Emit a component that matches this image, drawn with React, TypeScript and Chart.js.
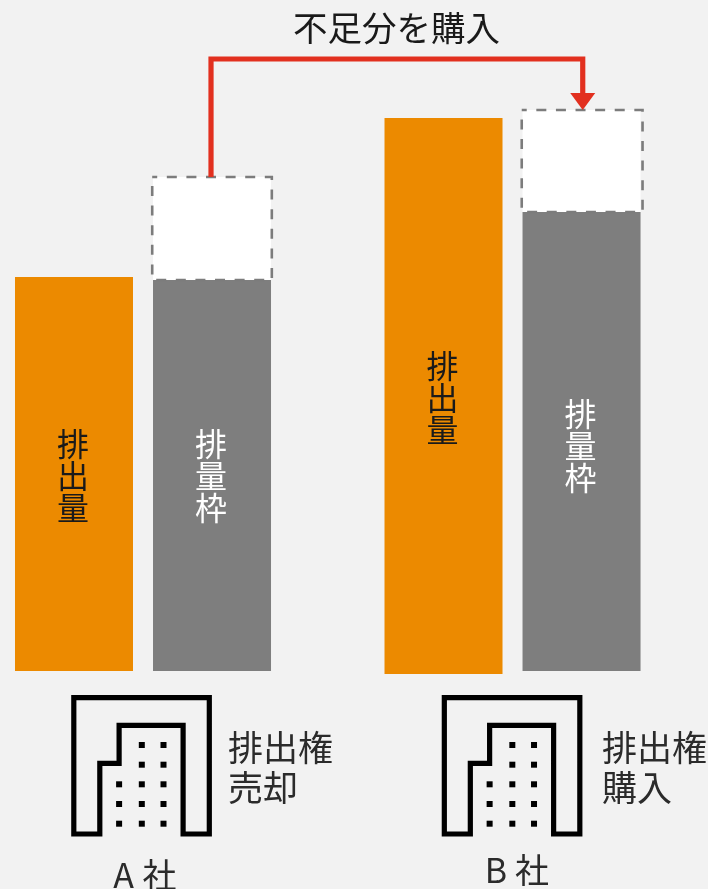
import React, { useEffect, useRef } from "react";
import { Chart, registerables } from "chart.js";

Chart.register(...registerables);

const companyIndex = [0, 1];
const companyNames = ["A社", "B社"];
const companyGlyphGap = [6, 6];
const tradeCaptions = [
  ["排出権", "売却"],
  ["排出権", "購入"],
];
const emissionFloor = [0, -3];
const emissionValues = [394, 556];
const capValues = [391, 459];
const tradeValues = [103, 102];
const emissionLabel = "排出量";
const capLabel = "排量枠";
const arrowLabel = "不足分を購入";
const iconNudge = [-1.5, -0.5];

const FONT = '"Noto Sans CJK JP", "Noto Sans", sans-serif';
const BACKGROUND = "#f2f2f2";
const ORANGE = "#ec8a00";
const GREY = "#7e7e7e";
const RED = "#e2301f";
const INK = "#1a1a1a";

const toRanges = (lows: number[], heights: number[]) =>
  companyIndex.map((x, i) => ({ x, y: [lows[i], lows[i] + heights[i]] }));

// Office-building pictogram: outlined shell with a grid of window dots.
function drawBuilding(ctx: CanvasRenderingContext2D, cx: number) {
  const path: [number, number][] = [
    [-67.7, 834],
    [-41.7, 834],
    [-41.7, 763.3],
    [-22.4, 763.3],
    [-22.4, 725.3],
    [41.6, 725.3],
    [41.6, 834],
    [67.8, 834],
    [67.8, 697.7],
    [-67.7, 697.7],
  ];
  ctx.strokeStyle = "#000";
  ctx.lineWidth = 5.2;
  ctx.lineJoin = "miter";
  ctx.beginPath();
  path.forEach(([dx, y], i) => (i ? ctx.lineTo(cx + dx, y) : ctx.moveTo(cx + dx, y)));
  ctx.closePath();
  ctx.stroke();

  ctx.fillStyle = "#000";
  const columns = [-22.4, 0.3, 22];
  const rows = [745, 764.7, 784.3, 804, 823.7];
  rows.forEach((y, r) => {
    columns.forEach((dx, c) => {
      if (r < 2 && c === 0) return;
      ctx.fillRect(cx + dx - 3, y - 3, 6, 6);
    });
  });
}

// The dashed outline, arrow and captions all read the resolved bar elements.
const annotations = {
  id: "annotations",
  afterDatasetsDraw(chart: Chart) {
    const { ctx, scales } = chart;
    const emissionBars = chart.getDatasetMeta(0).data as any[];
    const capBars = chart.getDatasetMeta(1).data as any[];
    const tradeBars = chart.getDatasetMeta(2).data as any[];

    ctx.save();

    // Dashed frame around the traded allowance.
    ctx.strokeStyle = "#7c7c7c";
    ctx.lineWidth = 2.6;
    ctx.setLineDash([10, 9.6]);
    ctx.lineDashOffset = 5;
    tradeBars.forEach((bar, i) => {
      const half = bar.width / 2 + 0.8;
      const grow = i === 1 ? 1.2 : 0;
      ctx.strokeRect(bar.x - half, bar.y, half * 2 + grow, bar.base - bar.y);
    });
    ctx.setLineDash([]);

    // Purchase arrow from the seller's frame to the buyer's frame.
    const from = tradeBars[0];
    const to = tradeBars[1];
    const railY = 59;
    const headTop = 93;
    ctx.strokeStyle = RED;
    ctx.lineWidth = 5.2;
    ctx.lineJoin = "miter";
    ctx.beginPath();
    ctx.moveTo(from.x - 1, from.y);
    ctx.lineTo(from.x - 1, railY);
    ctx.lineTo(to.x + 1.2, railY);
    ctx.lineTo(to.x + 1.2, headTop + 1);
    ctx.stroke();
    ctx.fillStyle = RED;
    ctx.beginPath();
    ctx.moveTo(to.x + 1.2 - 12.5, headTop);
    ctx.lineTo(to.x + 1.2 + 12.5, headTop);
    ctx.lineTo(to.x + 1.2, to.y);
    ctx.closePath();
    ctx.fill();

    ctx.textAlign = "center";
    ctx.textBaseline = "middle";

    ctx.fillStyle = INK;
    ctx.font = `34.5px ${FONT}`;
    ctx.fillText(arrowLabel, 396.5, 28);

    // Stacked vertical captions centred on each bar.
    ctx.font = `32px ${FONT}`;
    const stackChars = (bar: any, text: string, color: string, shift: number) => {
      const mid = (bar.y + bar.base) / 2 + shift;
      ctx.fillStyle = color;
      [...text].forEach((ch, i) => ctx.fillText(ch, bar.x - 1, mid + (i - 1) * 32));
    };
    emissionBars.forEach((bar) => stackChars(bar, emissionLabel, INK, 2));
    capBars.forEach((bar, i) => stackChars(bar, capLabel, "#ffffff", i === 1 ? 4.5 : 0.5));

    // Pictograms, trade captions and company names below the bars.
    companyIndex.forEach((value, i) => {
      const cx = scales.x.getPixelForValue(value) + iconNudge[i];
      drawBuilding(ctx, cx);

      ctx.fillStyle = "#2b2b2b";
      ctx.textAlign = "left";
      ctx.font = `35px ${FONT}`;
      const captionX = i === 0 ? 228 : 602;
      tradeCaptions[i].forEach((line, l) => ctx.fillText(line, captionX, 748 + l * 40));

      ctx.textAlign = "center";
      ctx.font = `34px ${FONT}`;
      const [latin, kanji] = [...companyNames[i]];
      const nameY = i === 0 ? 875 : 870;
      const baseX = cx + (i === 0 ? 3 : 5);
      ctx.fillText(latin, baseX - 18 - companyGlyphGap[i] / 2, nameY);
      ctx.fillText(kanji, baseX + 15, nameY);
    });

    ctx.restore();
  },
};

export default function App() {
  const canvasRef = useRef<HTMLCanvasElement>(null);

  useEffect(() => {
    document.body.style.margin = "0";
    document.body.style.background = BACKGROUND;
    const chart = new Chart(canvasRef.current!, {
      type: "bar",
      data: {
        datasets: [
          {
            label: emissionLabel,
            stack: "emission",
            data: toRanges(emissionFloor, emissionValues) as any,
            backgroundColor: ORANGE,
          },
          {
            label: capLabel,
            stack: "cap",
            data: toRanges([0, 0], capValues) as any,
            backgroundColor: GREY,
          },
          {
            label: arrowLabel,
            stack: "cap",
            data: toRanges(capValues, tradeValues) as any,
            backgroundColor: "#ffffff",
          },
        ],
      },
      options: {
        responsive: false,
        animation: false,
        layout: { padding: 0 },
        categoryPercentage: 0.747,
        barPercentage: 0.855,
        plugins: { legend: { display: false }, tooltip: { enabled: false } },
        scales: {
          x: {
            type: "linear",
            display: false,
            offset: false,
            min: -0.387,
            max: 1.529,
            grid: { display: false },
            ticks: { stepSize: 1, includeBounds: false },
          },
          y: {
            type: "linear",
            display: false,
            stacked: false,
            min: -218,
            max: 671,
            grid: { display: false },
          },
        },
      } as any,
      plugins: [annotations],
    });
    return () => chart.destroy();
  }, []);

  return (
    <div style={{ width: 708, height: 889, background: BACKGROUND }}>
      <canvas ref={canvasRef} width={708} height={889} style={{ display: "block" }} />
    </div>
  );
}
